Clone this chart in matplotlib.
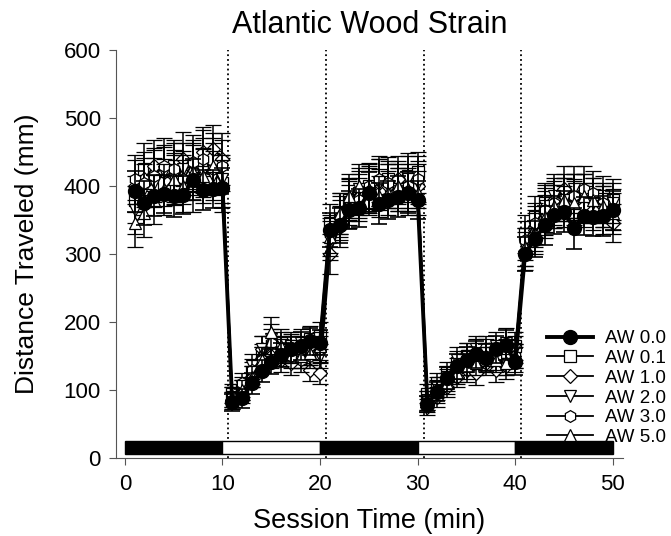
import matplotlib
matplotlib.use("Agg")
import matplotlib.pyplot as plt
from matplotlib.patches import Rectangle
from matplotlib.lines import Line2D

plt.rcParams['font.family'] = ['Liberation Sans', 'DejaVu Sans']

# session minutes
minutes = list(range(1, 51))

# mean distance traveled (mm) per group
aw00 = [392, 375, 386, 388, 385, 387, 409, 394, 396, 397,
        82, 88, 110, 128, 142, 152, 160, 165, 172, 170,
        335, 342, 365, 368, 390, 374, 380, 384, 390, 380,
        80, 98, 118, 135, 145, 153, 148, 160, 166, 142,
        300, 322, 342, 358, 362, 338, 356, 354, 356, 364]
aw01 = [380, 425, 420, 405, 430, 415, 400, 430, 440, 405,
        95, 100, 125, 150, 160, 170, 165, 160, 175, 180,
        345, 360, 380, 390, 400, 395, 410, 405, 415, 420,
        95, 110, 125, 140, 150, 145, 160, 150, 155, 165,
        330, 355, 375, 370, 385, 380, 375, 380, 385, 380]
aw10 = [400, 410, 430, 420, 415, 440, 425, 450, 455, 440,
        85, 95, 120, 160, 150, 145, 140, 150, 130, 125,
        300, 340, 370, 385, 395, 405, 400, 410, 390, 400,
        75, 90, 105, 120, 130, 125, 140, 130, 135, 145,
        305, 335, 360, 380, 395, 385, 370, 365, 360, 345]
aw20 = [365, 395, 405, 420, 410, 425, 430, 420, 415, 410,
        90, 105, 135, 160, 175, 160, 165, 170, 155, 150,
        320, 350, 375, 395, 390, 405, 400, 395, 410, 405,
        85, 105, 120, 145, 150, 160, 155, 165, 170, 160,
        310, 340, 370, 385, 380, 395, 385, 375, 370, 375]
aw30 = [410, 405, 415, 430, 425, 410, 435, 440, 425, 430,
        90, 110, 130, 145, 170, 155, 150, 145, 150, 160,
        330, 355, 380, 380, 400, 410, 405, 395, 400, 410,
        85, 100, 115, 130, 140, 155, 145, 150, 140, 150,
        320, 345, 365, 375, 370, 385, 395, 390, 375, 365]
aw50 = [345, 360, 380, 395, 410, 400, 420, 415, 430, 400,
        85, 100, 120, 145, 185, 165, 160, 150, 155, 165,
        325, 360, 385, 400, 395, 385, 390, 400, 395, 390,
        80, 95, 110, 125, 135, 140, 150, 145, 140, 150,
        310, 330, 355, 370, 380, 375, 385, 380, 370, 360]

# standard errors
err00 = [30, 32, 30, 28, 30, 28, 30, 30, 28, 30,
         12, 14, 15, 16, 18, 18, 18, 20, 20, 18,
         25, 26, 28, 28, 30, 30, 28, 30, 30, 28,
         12, 14, 16, 18, 18, 20, 20, 20, 22, 20,
         25, 26, 28, 28, 30, 30, 28, 28, 30, 28]
err01 = [35, 38, 36, 35, 38, 36, 38, 40, 38, 36,
         14, 15, 16, 18, 20, 20, 18, 20, 20, 20,
         28, 30, 30, 32, 32, 30, 32, 32, 34, 30,
         14, 15, 16, 18, 20, 20, 20, 20, 20, 20,
         28, 30, 30, 32, 32, 30, 30, 32, 30, 30]
err10 = [38, 40, 38, 40, 38, 40, 38, 36, 35, 38,
         13, 14, 16, 20, 18, 18, 18, 18, 16, 16,
         30, 30, 32, 32, 34, 34, 32, 34, 32, 32,
         12, 14, 15, 16, 18, 18, 18, 18, 18, 18,
         28, 30, 32, 32, 34, 32, 30, 30, 30, 28]
err20 = [35, 38, 36, 38, 36, 38, 38, 36, 36, 35,
         14, 15, 18, 20, 22, 20, 20, 20, 18, 18,
         28, 30, 32, 32, 32, 34, 32, 32, 34, 32,
         14, 15, 16, 18, 20, 20, 20, 20, 22, 20,
         28, 30, 32, 32, 32, 34, 32, 30, 30, 30]
err30 = [36, 36, 38, 40, 38, 36, 40, 42, 38, 38,
         14, 15, 16, 18, 20, 20, 18, 18, 18, 20,
         28, 30, 32, 32, 34, 34, 32, 32, 32, 34,
         14, 15, 16, 18, 18, 20, 18, 20, 18, 18,
         28, 30, 32, 32, 30, 32, 34, 32, 30, 30]
err50 = [35, 35, 36, 38, 38, 38, 40, 40, 40, 38,
         13, 15, 16, 18, 22, 20, 20, 18, 18, 20,
         28, 30, 32, 32, 32, 30, 32, 32, 32, 32,
         12, 14, 15, 16, 18, 18, 20, 18, 18, 18,
         28, 30, 32, 32, 32, 32, 32, 32, 30, 30]

labels = ['AW 0.0', 'AW 0.1', 'AW 1.0', 'AW 2.0', 'AW 3.0', 'AW 5.0']
markers = ['o', 's', 'D', 'v', 'h', '^']

# light/dark phases
phase_edges = [0, 10, 20, 30, 40, 50]
phase_colors = ['black', 'white', 'black', 'white', 'black']
switch_times = [10.6, 20.6, 30.6, 40.6]

fig = plt.figure(figsize=(6.71, 5.36), dpi=100)
ax = fig.add_axes([0.173, 0.145, 0.755, 0.762])

series = [aw00, aw01, aw10, aw20, aw30, aw50]
errs = [err00, err01, err10, err20, err30, err50]

handles = {}
for i in range(5, -1, -1):
    if i == 0:
        style = dict(color='black', lw=2.8, marker='o', ms=10, mfc='black', mec='black')
        ax.errorbar(minutes, series[i], yerr=errs[i], elinewidth=1.2, capsize=6,
                    capthick=1.2, zorder=10, **style)
    else:
        ms = 8.5 if markers[i] != 'D' else 7.5
        style = dict(color='black', lw=1.3, marker=markers[i], ms=ms, mfc='white',
                     mec='black', mew=0.9)
        ax.errorbar(minutes, series[i], yerr=errs[i], elinewidth=1.1, capsize=6,
                    capthick=1.1, zorder=3 + i, **style)
    handles[i] = Line2D([], [], **style)

for t in switch_times:
    ax.axvline(t, color='black', ls=':', lw=1.3, zorder=1)

for k in range(5):
    ax.add_patch(Rectangle((phase_edges[k], 7), phase_edges[k + 1] - phase_edges[k], 18,
                           facecolor=phase_colors[k], edgecolor='black', lw=1, zorder=12))

ax.set_xlim(-0.9, 51)
ax.set_ylim(0, 600)
ax.set_xticks([0, 10, 20, 30, 40, 50])
ax.set_yticks([0, 100, 200, 300, 400, 500, 600])
ax.tick_params(labelsize=16, direction='out', length=5, color='#555555', pad=6)
ax.spines['top'].set_visible(False)
ax.spines['right'].set_visible(False)
for s in ['left', 'bottom']:
    ax.spines[s].set_color('#555555')

ax.set_title('Atlantic Wood Strain', fontsize=22, pad=12)
ax.set_xlabel('Session Time (min)', fontsize=19.5, labelpad=10)
ax.set_ylabel('Distance Traveled (mm)', fontsize=19, labelpad=18)

leg = ax.legend([handles[i] for i in range(6)], labels,
                loc='lower right', bbox_to_anchor=(1.085, 0.03), frameon=False,
                fontsize=13.5, handlelength=2.5, labelspacing=0.14, handletextpad=0.6,
                borderaxespad=0, borderpad=0)
leg.set_zorder(20)

fig.savefig('out.png', dpi=100)
